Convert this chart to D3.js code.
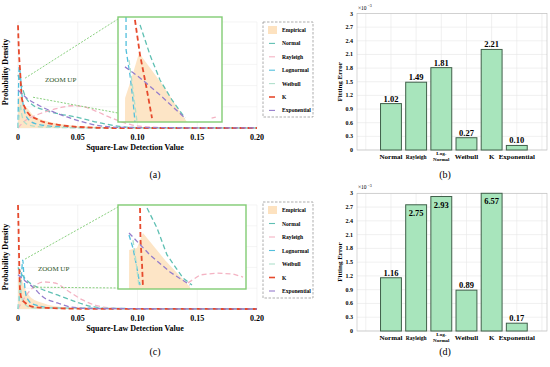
<!DOCTYPE html>
<html>
<head>
<meta charset="utf-8">
<script src="https://cdn.jsdelivr.net/npm/d3@7"></script>
<style>
  body { margin: 0; background: #fff; }
  svg { display: block; }
  text { font-family: "Liberation Serif", "DejaVu Serif", serif; }
</style>
</head>
<body>
<svg id="fig" width="550" height="367"></svg>
<script>
// ---- data ----
const xTicks = [0, 0.05, 0.10, 0.15, 0.20];
const xTickLabels = ["0", "0.05", "0.10", "0.15", "0.20"];
const seriesNames = ["Empirical", "Normal", "Rayleigh", "Lognormal", "Weibull", "K", "Exponential"];
const seriesColors = ["#fde2c0", "#5fc0b3", "#f4b3c3", "#52bfdc", "#b0e0cc", "#e64a2d", "#957dcc"];

// panel (a) main curves  [x, density]
const empA = [[0, 28], [0.002, 30], [0.005, 22], [0.0075, 19], [0.0125, 12], [0.021, 7.5], [0.04, 3], [0.07, 0.8], [0.09, 0]];
const normalA = [[0, 50], [0.003, 40], [0.006, 30], [0.012, 22], [0.025, 16], [0.05, 10], [0.07, 4.5], [0.085, 1.5], [0.1, 0.3], [0.2, 0]];
const rayleighA = [[0, 0], [0.005, 6], [0.015, 12], [0.025, 16], [0.035, 19], [0.045, 21], [0.055, 20], [0.065, 16], [0.075, 11], [0.085, 6.5], [0.095, 3], [0.11, 1], [0.13, 0.2], [0.2, 0]];
const lognormalA = [[0, 0], [0.0005, 40], [0.001, 58], [0.002, 50], [0.003, 35], [0.005, 18], [0.008, 9], [0.015, 4], [0.03, 1.5], [0.06, 0.3], [0.2, 0]];
const weibullA = [[0, 0], [0.001, 12], [0.002, 22], [0.003, 14], [0.005, 6], [0.01, 2.5], [0.02, 1], [0.05, 0.2], [0.2, 0]];
const kA = [[0, 97], [0.0004, 83], [0.0008, 71], [0.0017, 55], [0.0025, 39], [0.0031, 29], [0.0059, 19], [0.01, 12], [0.0157, 8.5], [0.0212, 5.7], [0.0293, 3.8], [0.041, 1.9], [0.0577, 0.6], [0.077, 0], [0.2, 0]];
const expA = [[0, 36], [0.0075, 28], [0.018, 21], [0.03, 15], [0.041, 10.4], [0.055, 5.5], [0.069, 2], [0.09, 0.5], [0.2, 0.05]];

// panel (a) zoomed-in curves
const empAz = [[0.00067, 0], [0.00068, 9.1], [0.00125, 16], [0.00202, 26.3], [0.00423, 14.5], [0.00663, 0]];
const normalAz = [[0.00212, 37], [0.00308, 25.5], [0.00404, 16], [0.00519, 8.4], [0.00644, 1.5]];
const rayleighAz = [[0.0090, 1.5], [0.0094, 1.9]];
const lognormalAz = [[0.00077, 40], [0.00078, 27.4], [0.00115, 17.9], [0.00144, 8.4], [0.00163, 0]];
const weibullAz = [[0.00106, 23.6], [0.00144, 12.2], [0.00183, 0]];
const kAz = [[0.00163, 38.9], [0.00212, 25.5], [0.00269, 14.1], [0.00327, 1.5]];
const expAz = [[0.00067, 21], [0.00212, 16.8], [0.00404, 10.3], [0.00644, 1.5]];

// panel (c) main curves
const empC = [[0, 25], [0.002, 31], [0.005, 22], [0.01, 12], [0.02, 6], [0.04, 1.5], [0.06, 0.3], [0.08, 0]];
const normalC = [[0, 40], [0.004, 32], [0.01, 25], [0.018, 20], [0.033, 13.5], [0.049, 6.7], [0.063, 2], [0.08, 0.5], [0.2, 0]];
const rayleighC = [[0, 0], [0.005, 10], [0.012, 20], [0.021, 26], [0.031, 25], [0.041, 18], [0.054, 8.7], [0.065, 3.5], [0.08, 0.8], [0.1, 0], [0.2, 0]];
const lognormalC = [[0, 0], [0.001, 10], [0.003, 35], [0.004, 47], [0.005, 30], [0.007, 12], [0.012, 5], [0.03, 1], [0.2, 0]];
const weibullC = [[0, 0], [0.001, 15], [0.002, 25], [0.003, 12], [0.006, 4], [0.012, 1], [0.2, 0]];
const kC = [[0, 100], [0.0005, 75], [0.001, 45], [0.0017, 18], [0.003, 10], [0.006, 6], [0.0126, 2], [0.03, 0.8], [0.06, 0.2], [0.2, 0]];
const expC = [[0, 33], [0.006, 27], [0.0126, 21], [0.021, 11.5], [0.033, 5.8], [0.044, 2], [0.06, 0.5], [0.2, 0]];

// panel (c) zoomed-in curves
const empCz = [[0.00086, 0], [0.00087, 18.6], [0.00148, 19.5], [0.00195, 26.7], [0.00367, 13.8], [0.00563, 1], [0.00564, 0]];
const normalCz = [[0.00227, 38.6], [0.00305, 29], [0.00383, 16.2], [0.00508, 5.2], [0.00578, 1.9]];
const rayleighCz = [[0.00547, 2.9], [0.00641, 6.7], [0.00773, 7.6], [0.00898, 7.1], [0.00977, 5.7]];
const lognormalCz = [[0.00086, 25.7], [0.00117, 19.5], [0.00148, 10], [0.00172, 1.9]];
const weibullCz = [[0.00117, 23.3], [0.00141, 12.9], [0.00164, 1]];
const kCz = [[0.00172, 38.6], [0.00176, 23.3], [0.00188, 11.4], [0.00195, 1]];
const expCz = [[0.00086, 26.7], [0.0025, 16.2], [0.00406, 8.1], [0.00563, 1.9]];

// fitting errors (x1e-3)
const models = ["Normal", "Rayleigh", "Log-Normal", "Weibull", "K", "Exponential"];
const errorsB = [1.02, 1.49, 1.81, 0.27, 2.21, 0.10];
const errorsD = [1.16, 2.75, 2.93, 0.89, 6.57, 0.17];
const errTicks = [0, 0.3, 0.6, 0.9, 1.2, 1.5, 1.8, 2.1, 2.4, 2.7, 3];

const svg = d3.select("#fig");
svg.append("rect").attr("width", 550).attr("height", 367).attr("fill", "#fff");

let clipId = 0;
function clip(g, x, y, w, h) {
    const id = "clip" + (clipId++);
    g.append("clipPath").attr("id", id).append("rect")
        .attr("x", x).attr("y", y).attr("width", w).attr("height", h);
    return "url(#" + id + ")";
}

function drawDensity(cfg) {
    const g = svg.append("g");
    const x = d3.scaleLinear().domain([0, 0.2]).range([18, 257]);
    const y = d3.scaleLinear().domain([0, 100]).range([cfg.bottom, cfg.top]);

    // grid
    g.selectAll(".vg").data(xTicks).enter().append("line")
        .attr("x1", d => x(d)).attr("x2", d => x(d))
        .attr("y1", y(0)).attr("y2", y(100))
        .attr("stroke", "#ececec").attr("stroke-width", 0.6);
    g.selectAll(".hg").data([0, 20, 40, 60, 80, 100]).enter().append("line")
        .attr("x1", x(0)).attr("x2", x(0.2))
        .attr("y1", d => y(d)).attr("y2", d => y(d))
        .attr("stroke", "#ececec").attr("stroke-width", 0.6);

    const line = d3.line().x(d => x(d[0])).y(d => y(d[1])).curve(d3.curveMonotoneX);
    const area = d3.area().x(d => x(d[0])).y0(y(0)).y1(d => y(d[1])).curve(d3.curveMonotoneX);
    const cp = clip(g, x(0) - 2, y(100) - 2, x(0.2) - x(0) + 4, y(0) - y(100) + 3);
    const pg = g.append("g").attr("clip-path", cp);
    pg.append("path").datum(cfg.main[0]).attr("d", area).attr("fill", seriesColors[0]).attr("opacity", 0.9);
    cfg.main.slice(1).forEach((s, i) => {
        pg.append("path").datum(s).attr("d", line).attr("fill", "none")
            .attr("stroke", seriesColors[i + 1])
            .attr("stroke-width", i === 4 ? 1.8 : 1.3)
            .attr("stroke-dasharray", "5,3");
    });

    // x axis labels
    g.selectAll(".xt").data(xTicks).enter().append("text")
        .attr("x", d => x(d)).attr("y", cfg.bottom + 12)
        .attr("text-anchor", "middle").attr("font-size", 8).attr("font-weight", "bold")
        .text((d, i) => xTickLabels[i]);
    g.append("text").attr("x", 135).attr("y", cfg.bottom + 22)
        .attr("text-anchor", "middle").attr("font-size", 8).attr("font-weight", "bold")
        .text("Square-Law Detection Value");
    g.append("text").attr("transform", `translate(8,${cfg.yTitle}) rotate(-90)`)
        .attr("text-anchor", "middle").attr("font-size", 8).attr("font-weight", "bold")
        .text("Probability Density");

    // zoom connectors and label
    const b = cfg.inset;
    g.append("line").attr("x1", x(cfg.link[0][0])).attr("y1", y(cfg.link[0][1]))
        .attr("x2", b.x0).attr("y2", b.y0 + 2)
        .attr("stroke", "#7cc96f").attr("stroke-width", 0.9).attr("stroke-dasharray", "2,1.5");
    g.append("line").attr("x1", x(cfg.link[1][0])).attr("y1", y(cfg.link[1][1]))
        .attr("x2", b.x0).attr("y2", cfg.linkEnd)
        .attr("stroke", "#7cc96f").attr("stroke-width", 0.9).attr("stroke-dasharray", "2,1.5");
    g.append("text").attr("x", cfg.zoomText[0]).attr("y", cfg.zoomText[1])
        .attr("font-size", 7).attr("fill", "#2b5528").text("ZOOM UP");

    // inset
    const ix = d3.scaleLinear().domain([0, 0.01]).range([b.x0, b.x1]);
    const iy = d3.scaleLinear().domain([0, 40]).range([b.y1, b.y0]);
    g.append("rect").attr("x", b.x0).attr("y", b.y0).attr("width", b.x1 - b.x0).attr("height", b.y1 - b.y0)
        .attr("fill", "#fff");
    const icp = clip(g, b.x0, b.y0, b.x1 - b.x0, b.y1 - b.y0);
    const ig = g.append("g").attr("clip-path", icp);
    const iline = d3.line().x(d => ix(d[0])).y(d => iy(d[1]));
    const iarea = d3.area().x(d => ix(d[0])).y0(iy(0)).y1(d => iy(d[1]));
    ig.append("path").datum(cfg.zoom[0]).attr("d", iarea).attr("fill", seriesColors[0]).attr("opacity", 0.9);
    cfg.zoom.slice(1).forEach((s, i) => {
        ig.append("path").datum(s).attr("d", iline).attr("fill", "none")
            .attr("stroke", seriesColors[i + 1])
            .attr("stroke-width", i === 4 ? 1.8 : 1.3)
            .attr("stroke-dasharray", "5,3");
    });
    g.append("rect").attr("x", b.x0).attr("y", b.y0).attr("width", b.x1 - b.x0).attr("height", b.y1 - b.y0)
        .attr("fill", "none").attr("stroke", "#82cc74").attr("stroke-width", 1.4);

    // legend
    const L = cfg.legend;
    g.append("rect").attr("x", L.x).attr("y", L.y).attr("width", 50).attr("height", L.h)
        .attr("fill", "#fff").attr("stroke", "#8a8a8a").attr("stroke-width", 0.7)
        .attr("stroke-dasharray", "2.5,1.5");
    const items = g.selectAll(".lg").data(seriesNames).enter().append("g")
        .attr("transform", (d, i) => `translate(${L.x + 5},${L.y + 8 + i * L.step})`);
    items.filter((d, i) => i === 0).append("rect")
        .attr("x", 0).attr("y", -4).attr("width", 9).attr("height", 8).attr("fill", seriesColors[0]);
    items.filter((d, i) => i > 0).append("line")
        .attr("x1", 1).attr("x2", 7).attr("y1", 0).attr("y2", 0)
        .attr("stroke", (d) => seriesColors[seriesNames.indexOf(d)])
        .attr("stroke-width", d => d === "K" ? 1.6 : 1.1);
    items.append("text").attr("x", 14).attr("y", 2)
        .attr("font-size", 5.6).attr("font-weight", "bold").text(d => d);
}

function drawBars(values, top, bottom) {
    const g = svg.append("g");
    const x = d3.scaleLinear().domain([-0.35, 7.2]).range([357, 547]);
    const y = d3.scaleLinear().domain([0, 3]).range([bottom, top]);

    g.selectAll(".hg").data(errTicks).enter().append("line")
        .attr("x1", x(-0.35)).attr("x2", x(7.2))
        .attr("y1", d => y(d)).attr("y2", d => y(d))
        .attr("stroke", "#e6e6e6").attr("stroke-width", 0.6);
    g.selectAll(".vg").data(d3.range(0, 8)).enter().append("line")
        .attr("x1", d => x(d)).attr("x2", d => x(d))
        .attr("y1", y(0)).attr("y2", y(3))
        .attr("stroke", "#e6e6e6").attr("stroke-width", 0.6);
    g.append("rect").attr("x", x(-0.35)).attr("y", y(3)).attr("width", x(7.2) - x(-0.35)).attr("height", y(0) - y(3))
        .attr("fill", "none").attr("stroke", "#bdbdbd").attr("stroke-width", 0.6);

    const bw = 0.83;
    g.selectAll(".bar").data(values).enter().append("rect")
        .attr("x", (d, i) => x(i + 1 - bw / 2))
        .attr("width", x(bw) - x(0))
        .attr("y", d => y(Math.min(d, 3)))
        .attr("height", d => y(0) - y(Math.min(d, 3)))
        .attr("fill", "#a8e5bc").attr("stroke", "#40604a").attr("stroke-width", 1);

    g.selectAll(".val").data(values).enter().append("text")
        .attr("x", (d, i) => x(i + 1))
        .attr("y", d => d > 2.6 ? y(Math.min(d, 3)) + 11 : y(d) - 2)
        .attr("text-anchor", "middle").attr("font-size", 8.5).attr("font-weight", "bold")
        .text(d => d.toFixed(2));

    g.selectAll(".yt").data(errTicks).enter().append("text")
        .attr("x", x(-0.35) - 4).attr("y", d => y(d) + 2)
        .attr("text-anchor", "end").attr("font-size", 6).attr("font-weight", "bold")
        .text(d => d === 0 || d === 3 ? String(d) : d.toFixed(1));
    g.append("text").attr("x", x(-0.35) + 1).attr("y", y(3) - 4)
        .attr("font-size", 5.5).text("×10");
    g.append("text").attr("x", x(-0.35) + 10.5).attr("y", y(3) - 6.5)
        .attr("font-size", 4).text("−3");
    g.append("text").attr("transform", `translate(${x(-0.35) - 15},${(y(0) + y(3)) / 2}) rotate(-90)`)
        .attr("text-anchor", "middle").attr("font-size", 7).attr("font-weight", "bold")
        .text("Fitting Error");

    models.forEach((m, i) => {
        const t = g.append("text").attr("x", x(i + 1)).attr("text-anchor", "middle").attr("font-weight", "bold");
        if (m === "Log-Normal") {
            t.attr("font-size", 5).attr("y", bottom + 5).text("Log-");
            g.append("text").attr("x", x(i + 1)).attr("y", bottom + 11).attr("text-anchor", "middle")
                .attr("font-weight", "bold").attr("font-size", 5).text("Normal");
        } else {
            t.attr("font-size", m === "Rayleigh" ? 5.5 : 7).attr("y", bottom + 9).text(m);
        }
    });
}

drawDensity({
    top: 22, bottom: 128, yTitle: 72,
    main: [empA, normalA, rayleighA, lognormalA, weibullA, kA, expA],
    zoom: [empAz, normalAz, rayleighAz, lognormalAz, weibullAz, kAz, expAz],
    inset: { x0: 118, x1: 222, y0: 17, y1: 122 },
    link: [[0.0059, 47], [0.0126, 29]], linkEnd: 113,
    zoomText: [45, 82],
    legend: { x: 263, y: 22, h: 95, step: 13.4 }
});
drawDensity({
    top: 205, bottom: 309, yTitle: 257,
    main: [empC, normalC, rayleighC, lognormalC, weibullC, kC, expC],
    zoom: [empCz, normalCz, rayleighCz, lognormalCz, weibullCz, kCz, expCz],
    inset: { x0: 118, x1: 246, y0: 205, y1: 289 },
    link: [[0.0059, 48], [0.0126, 21]], linkEnd: 288,
    zoomText: [38, 271],
    legend: { x: 263, y: 202, h: 96, step: 13.5 }
});
drawBars(errorsB, 13.5, 150);
drawBars(errorsD, 193.3, 331);

// sub-figure captions
[["(a)", 155, 178], ["(b)", 445, 178], ["(c)", 155, 355], ["(d)", 445, 355]].forEach(c => {
    svg.append("text").attr("x", c[1]).attr("y", c[2]).attr("text-anchor", "middle")
        .attr("font-size", 10).text(c[0]);
});
</script>
</body>
</html>
